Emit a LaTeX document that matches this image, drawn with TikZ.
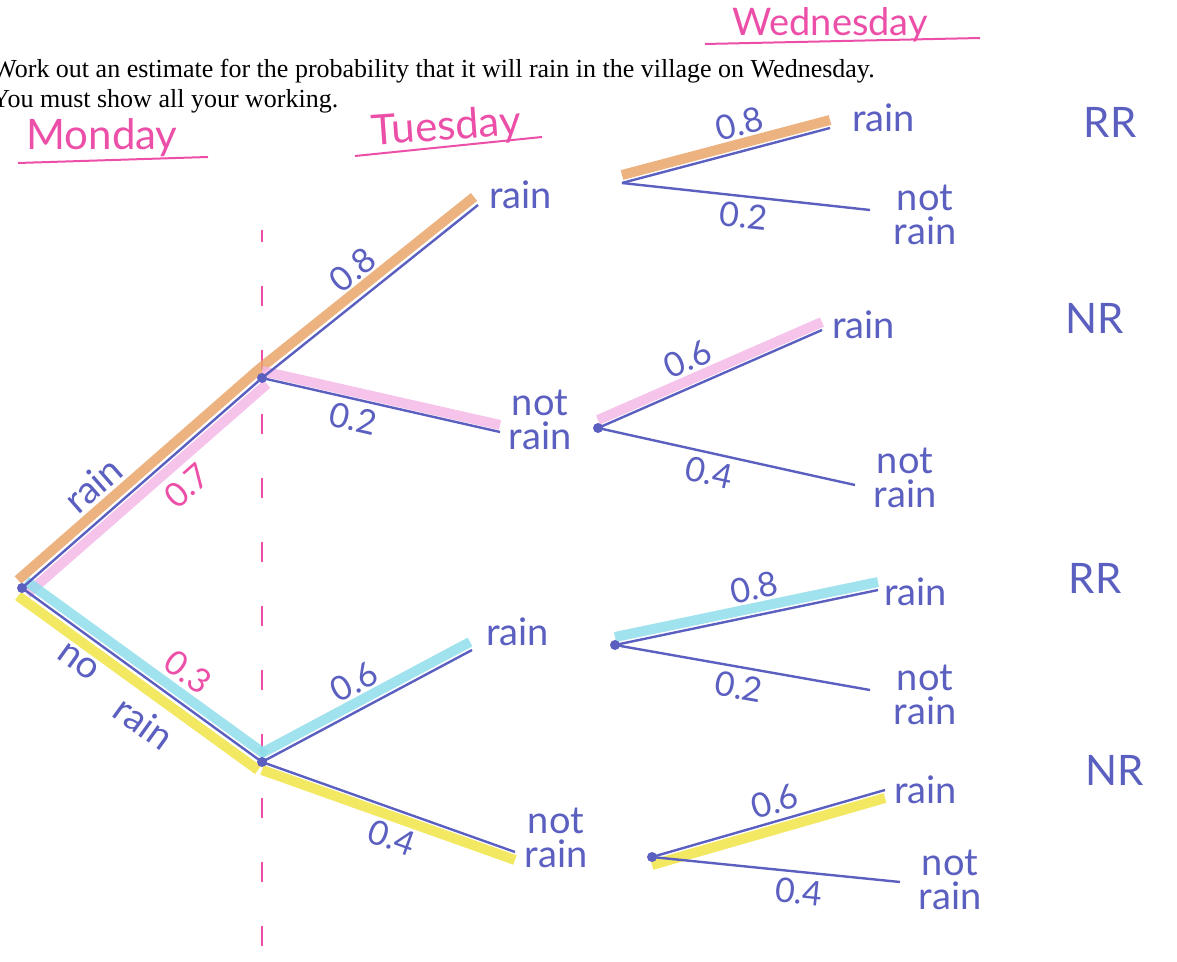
\documentclass[tikz,border=0pt]{standalone}
\usepackage{fontspec}
\setmainfont{Liberation Serif}
\newfontfamily\hand{Lato}
\usetikzlibrary{calc}
\definecolor{pen}{HTML}{5A5FC0}
\definecolor{marker}{HTML}{EC4FA8}
\definecolor{hlorange}{HTML}{E9A46A}
\definecolor{hlpink}{HTML}{F4B8E8}
\definecolor{hlcyan}{HTML}{8FDDEA}
\definecolor{hlyellow}{HTML}{F0E445}
\tikzset{
  branch/.style={draw=pen,line width=1.2pt},
  hl/.style={line width=5pt,opacity=.85},
  lbl/.style={text=pen,font=\hand\fontsize{19}{17}\selectfont,inner sep=2pt},
  prob/.style={text=pen,font=\hand\fontsize{17}{17}\selectfont,inner sep=3pt},
  day/.style={text=marker,font=\hand\fontsize{21}{22}\selectfont,anchor=base,inner sep=0pt},
  outcome/.style={text=pen,font=\hand\fontsize{21}{22}\selectfont}
}
\begin{document}
\begin{tikzpicture}[x=0.5pt,y=-0.5pt]
  \useasboundingbox (0,0) rectangle (1177,962);
  % question text
  \node[anchor=base west,inner sep=0,font=\fontsize{13}{15}\selectfont] (q1) at (-8,78)
    {Work out an estimate for the probability that it will rain in the village on Wednesday.};
  \node[anchor=base west,inner sep=0,font=\fontsize{13}{15}\selectfont] (q2) at (-9,108)
    {You must show all your working.};
  % day headings
  \node[day] (mon) at (102,150) {Monday};
  \node[day,rotate=4] (tue) at (447,140) {Tuesday};
  \node[day,font=\hand\fontsize{19}{20}\selectfont] (wed) at (830,36) {Wednesday};
  \draw[marker,line width=1pt] (18,163) -- (208,157);
  \draw[marker,line width=1pt] (355,156) -- (542,137);
  \draw[marker,line width=1pt] (705,44) -- (980,38);
  % dashed divider
  \draw[marker,line width=1pt,dash pattern=on 10pt off 22pt,dash phase=4pt] (262,230) -- (262,962);

  % branch points
  \coordinate (root) at (22,588);
  \coordinate (tu) at (262,378);
  \coordinate (tl) at (262,762);
  \coordinate (ur) at (478,205);
  \coordinate (un) at (500,432);
  \coordinate (lr) at (472,650);
  \coordinate (ln) at (515,852);
  \coordinate (wa) at (622,183);
  \coordinate (wb) at (598,428);
  \coordinate (wc) at (615,645);
  \coordinate (wd) at (652,857);
  \coordinate (wa1) at (830,128);
  \coordinate (wa2) at (870,210);
  \coordinate (wb1) at (822,330);
  \coordinate (wb2) at (855,485);
  \coordinate (wc1) at (878,590);
  \coordinate (wc2) at (870,690);
  \coordinate (wd1) at (885,790);
  \coordinate (wd2) at (900,882);

  % highlighter
  \draw[hl,hlorange,transform canvas={shift={(-2pt,4pt)}}] (root) -- (tu) -- (ur);
  \draw[hl,hlpink,transform canvas={shift={(2.5pt,-3pt)}}] (root) -- (tu);
  \draw[hl,hlpink,transform canvas={shift={(0pt,3.5pt)}}] (tu) -- (un);
  \draw[hl,hlorange,transform canvas={shift={(0pt,4pt)}}] (wa) -- (wa1);
  \draw[hl,hlpink,transform canvas={shift={(0pt,4pt)}}] (wb) -- (wb1);
  \draw[hl,hlcyan,transform canvas={shift={(2pt,3.5pt)}}] (root) -- (tl);
  \draw[hl,hlyellow,transform canvas={shift={(-2pt,-4pt)}}] (root) -- (tl);
  \draw[hl,hlcyan,transform canvas={shift={(-1pt,4pt)}}] (tl) -- (lr);
  \draw[hl,hlyellow,transform canvas={shift={(0pt,-4pt)}}] (tl) -- (ln);
  \draw[hl,hlcyan,transform canvas={shift={(0pt,4pt)}}] (wc) -- (wc1);
  \draw[hl,hlyellow,transform canvas={shift={(0pt,-4pt)}}] (wd) -- (wd1);

  % Monday
  \draw[branch] (root) -- node[lbl,sloped,above=6pt,pos=.38] {rain}
    node[prob,text=marker,sloped,below=6pt,pos=.6] {0.7} (tu);
  \draw[branch] (root) -- node[prob,text=marker,sloped,above=5pt,pos=.62] {0.3}
    node[lbl,sloped,below=6pt,pos=.3] {no}
    node[lbl,sloped,below=9pt,pos=.6] {rain} (tl);
  % Tuesday
  \draw[branch] (tu) -- node[prob,sloped,above=4pt] {0.8} (ur);
  \draw[branch] (tu) -- node[prob,sloped,below,pos=.4] {0.2} (un);
  \draw[branch] (tl) -- node[prob,sloped,above=4pt] {0.6} (lr);
  \draw[branch] (tl) -- node[prob,sloped,below=4pt,pos=.55] {0.4} (ln);
  \node[lbl,anchor=west] (tur) at (485,195) {rain};
  \node[lbl,align=center] (tun) at (540,420) {not\\rain};
  \node[lbl,anchor=west] (tlr) at (482,632) {rain};
  \node[lbl,align=center] (tln) at (556,838) {not\\rain};
  % Wednesday
  \draw[branch] (wa) -- node[prob,sloped,above=4pt,pos=.6] {0.8} (wa1);
  \draw[branch] (wa) -- node[prob,sloped,below,pos=.5] {0.2} (wa2);
  \draw[branch] (wb) -- node[prob,sloped,above=4pt,pos=.45] {0.6} (wb1);
  \draw[branch] (wb) -- node[prob,sloped,below,pos=.45] {0.4} (wb2);
  \draw[branch] (wc) -- node[prob,sloped,above=4pt,pos=.55] {0.8} (wc1);
  \draw[branch] (wc) -- node[prob,sloped,below,pos=.5] {0.2} (wc2);
  \draw[branch] (wd) -- node[prob,sloped,above,pos=.55] {0.6} (wd1);
  \draw[branch] (wd) -- node[prob,sloped,below,pos=.6] {0.4} (wd2);
  \node[lbl,anchor=west] (war) at (848,118) {rain};
  \node[lbl,align=center] (wan) at (925,215) {not\\rain};
  \node[lbl,anchor=west] (wbr) at (828,325) {rain};
  \node[lbl,align=center] (wbn) at (905,478) {not\\rain};
  \node[lbl,anchor=west] (wcr) at (880,592) {rain};
  \node[lbl,align=center] (wcn) at (925,695) {not\\rain};
  \node[lbl,anchor=west] (wdr) at (890,790) {rain};
  \node[lbl,align=center] (wdn) at (950,880) {not\\rain};
  % dots
  \foreach \p in {root,tu,tl,wb,wc,wd}
    \fill[pen] (\p) circle (2.5pt);
  % outcomes
  \node[outcome] (o1) at (1110,122) {RR};
  \node[outcome] (o2) at (1095,318) {NR};
  \node[outcome] (o3) at (1095,578) {RR};
  \node[outcome] (o4) at (1115,770) {NR};
\end{tikzpicture}
\end{document}
